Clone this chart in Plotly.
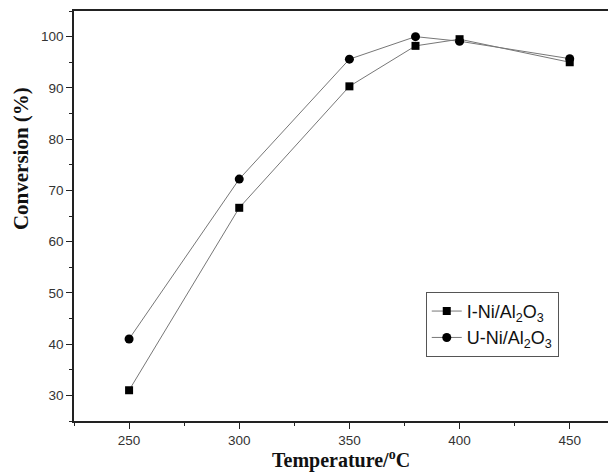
import plotly.graph_objects as go

temps = [250, 300, 350, 380, 400, 450]
i_ni = [31.0, 66.6, 90.3, 98.2, 99.5, 95.0]
u_ni = [41.0, 72.2, 95.6, 100.0, 99.1, 95.7]
x_ticks = [250, 300, 350, 400, 450]
y_ticks = [30, 40, 50, 60, 70, 80, 90, 100]

fig = go.Figure()
fig.add_trace(go.Scatter(x=temps, y=i_ni, mode="lines+markers",
                         name="I-Ni/Al<sub>2</sub>O<sub>3</sub>",
                         line=dict(color="#777777", width=1),
                         marker=dict(symbol="square", size=8, color="black")))
fig.add_trace(go.Scatter(x=temps, y=u_ni, mode="lines+markers",
                         name="U-Ni/Al<sub>2</sub>O<sub>3</sub>",
                         line=dict(color="#777777", width=1),
                         marker=dict(symbol="circle", size=9, color="black")))

tickfont = dict(family="Liberation Sans, Arial", size=13.5, color="#333333")
titlefont = dict(family="Liberation Serif, Times New Roman", size=21, color="#111111")
xtitlefont = dict(family="Liberation Serif, Times New Roman", size=20, color="#111111")

# page body has an 8px margin, so the figure is sized to fill the 616x474 window
fig.update_layout(
    width=608, height=466,
    margin=dict(l=66, r=0, t=3, b=53, autoexpand=False),
    paper_bgcolor="white", plot_bgcolor="white",
    showlegend=True,
    legend=dict(x=0.649, y=0.315, xanchor="left", yanchor="top",
                bordercolor="#555555", borderwidth=1,
                font=dict(family="Liberation Sans, Arial", size=18, color="#111111"),
                bgcolor="white", tracegroupgap=0),
    xaxis=dict(range=[225, 471], tickvals=x_ticks, ticks="outside", ticklen=6,
               tickcolor="#222", linecolor="#222", linewidth=1.5, showline=True,
               mirror=True, showgrid=False, zeroline=False, tickfont=tickfont,
               automargin=False,
               minor=dict(dtick=25, tick0=225, ticks="outside", ticklen=3, tickcolor="#222")),
    yaxis=dict(range=[25, 105], tickvals=y_ticks, ticks="outside", ticklen=6,
               tickcolor="#222", linecolor="#222", linewidth=1.5, showline=True,
               showgrid=False, zeroline=False, tickfont=tickfont,
               automargin=False,
               minor=dict(dtick=5, tick0=25, ticks="outside", ticklen=3, tickcolor="#222")),
    annotations=[
        dict(text="<b>Temperature/<sup>o</sup>C</b>", xref="paper", yref="paper",
             x=0.4926, y=-0.093, xanchor="center", yanchor="middle",
             showarrow=False, font=xtitlefont),
        dict(text="<b>Conversion (%)</b>", xref="paper", yref="paper",
             x=-0.098, y=0.641, xanchor="center", yanchor="middle", textangle=-90,
             showarrow=False, font=titlefont),
    ],
)
fig.write_html("out.html")
